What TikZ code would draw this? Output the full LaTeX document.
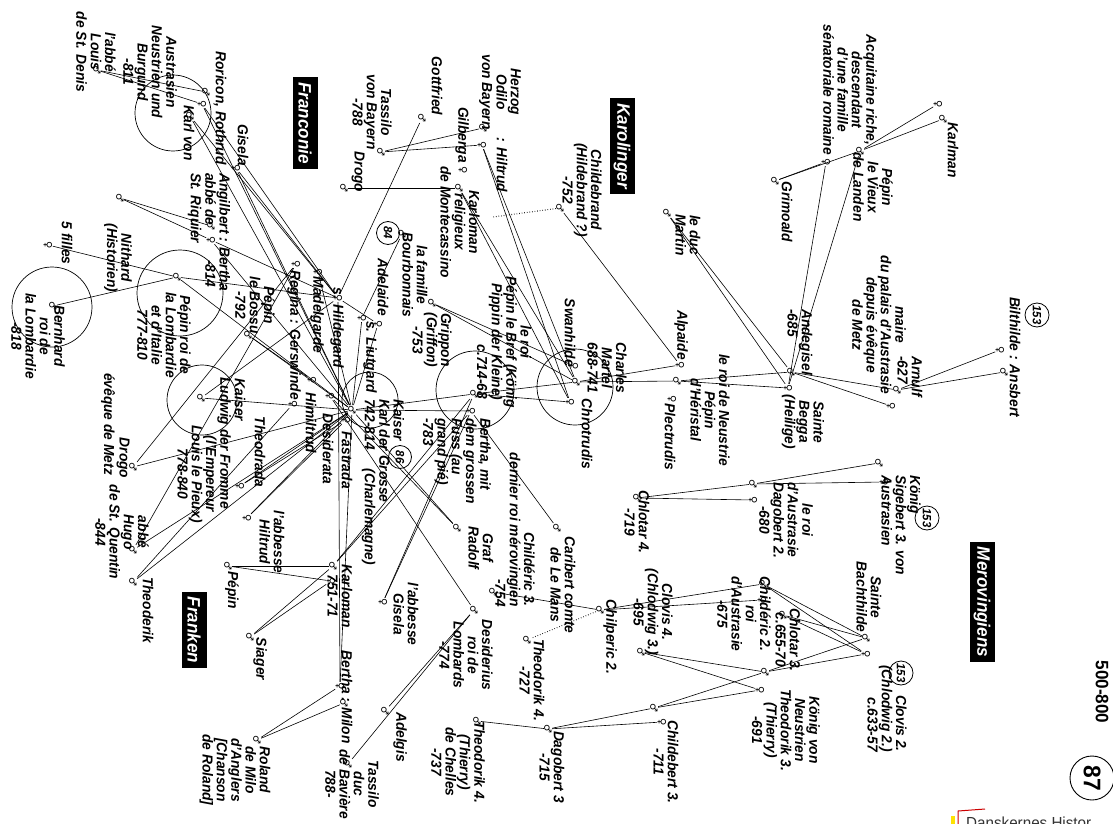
\documentclass[tikz,border=0pt]{standalone}
\usepackage{fontspec}
\setmainfont{Liberation Sans}[FakeStretch=0.95]
\newfontfamily\symf{DejaVu Sans}
\newcommand\kid[3]{\draw[ln] (#1) -- (#3); \draw[ln] (#2) -- (#3);}
\begin{document}
\begin{tikzpicture}[x=1pt,y=-1pt,
  tx/.style={rotate=-90, align=center, inner sep=0pt, font=\fontsize{14.5}{14.3}\selectfont\bfseries\itshape},
  txl/.style={tx, align=left},
  txr/.style={tx, align=right},
  lab/.style={rotate=-90, fill=black, text=white, inner xsep=5pt, inner ysep=0pt, minimum height=25pt, font=\fontsize{18}{18}\selectfont\bfseries\itshape},
  num/.style={circle, draw, line width=0.8pt, inner sep=0pt, minimum size=24pt, rotate=-90, font=\fontsize{12}{12}\selectfont\bfseries\itshape},
  ring/.style={circle, draw, line width=0.7pt, inner sep=0pt},
  sy/.style={rotate=-90, inner sep=0.3pt, font=\symf\fontsize{10}{10}\selectfont},
  ln/.style={line width=0.6pt},
]
\useasboundingbox (0,0) rectangle (1113,824);
\fill[white] (0,0) rectangle (1113,824);

% ---------- person symbols ----------
\node[sy] (karlmanw) at (938,104) {♀};
\node[sy] (karlman) at (943,119) {♂};
\node[sy] (pepinV) at (860,151) {♂};
\node[sy] (acq) at (826,162) {♀};
\node[sy] (grim) at (775,181) {♂};
\node[sy] (bilth) at (1000,350) {♀};
\node[sy] (ansb) at (1004,372) {♂};
\node[sy] (arnulf) at (897,390) {♂};
\node[sy] (arnw) at (891,406) {♀};
\node[sy] (andeg) at (791,372) {♂};
\node[sy] (begga) at (788,388) {♀};
\node[sy] (martin) at (667,213) {♂};
\node[sy] (alpaide) at (680,365) {♀};
\node[sy] (pepinH) at (677,381) {♂};
\node[sy] (plect) at (672,399) {♀};
\node[sy] (childebrand) at (560,208) {♂};
\node[sy] (swan) at (574,366) {♀};
\node[sy] (charles) at (576,382) {♂};
\node[sy] (chrot) at (570,402) {♀};
\node[sy] (pepinB) at (474,394) {♂};
\node[sy] (berthaB) at (471,411) {♀};
\node[sy] (gilberga) at (463,170) {♀};
\node[sy] (karlomanR) at (459,188) {♂};
\node[sy] (odilo) at (483,128) {♂};
\node[sy] (hiltrudO) at (482,145) {♀};
\node[sy] (tassilo) at (381,152) {♂};
\node[sy] (gottfried) at (422,118) {♂};
\node[sy] (drogoK) at (344,188) {♂};
\node[sy] (grippo) at (432,303) {♂};
\node[sy] (famille) at (402,234) {♂};
\node[sy] (adelaide) at (378,324) {♀};
\node[sy] (karl) at (352,410) {♂};
\node[sy] (liutgard) at (362,318) {♀};
\node[sy] (hildegard) at (338,298) {♀};
\node[sy] (madel) at (318,272) {♀};
\node[sy] (regina) at (296,264) {♀};
\node[sy] (gersw) at (293,404) {♀};
\node[sy] (himil) at (312,380) {♀};
\node[sy] (desid) at (330,396) {♀};
\node[sy] (fastrada) at (346,420) {♀};
\node[sy] (bossu) at (248,335) {♂};
\node[sy] (karlv) at (190,116) {♂};
\node[sy] (roricon) at (206,92) {♂};
\node[sy] (rothrud) at (202,104) {♀};
\node[sy] (gisela) at (236,168) {♀};
\node[sy] (angilb) at (211,226) {♂};
\node[sy] (berthaA) at (211,240) {♀};
\node[sy] (louis) at (97,70) {♂};
\node[sy] (nithard) at (120,198) {♂};
\node[sy] (filles) at (48,245) {♀};
\node[sy] (pepinL) at (177,277) {♂};
\node[sy] (bernhard) at (53,306) {♂};
\node[sy] (ludwig) at (201,398) {♂};
\node[sy] (theodrada) at (240,486) {♀};
\node[sy] (drogoM) at (133,467) {♂};
\node[sy] (hugo) at (133,550) {♂};
\node[sy] (theoderik) at (133,582) {♂};
\node[sy] (hiltrudK) at (247,518) {♀};
\node[sy] (berthaM) at (340,686) {♀};
\node[sy] (milon) at (344,703) {♂};
\node[sy] (roland) at (257,740) {♂};
\node[sy] (karlomanP) at (333,566) {♂};
\node[sy] (kpw) at (331,581) {♀};
\node[sy] (pepin3) at (228,566) {♂};
\node[sy] (siager) at (250,637) {♂};
\node[sy] (gisAb) at (383,602) {♀};
\node[sy] (desiderius) at (474,610) {♂};
\node[sy] (adelgis) at (385,711) {♂};
\node[sy] (tassduc) at (348,764) {♂};
\node[sy] (radolf) at (457,528) {♂};
\node[sy] (childeric3) at (493,592) {♂};
\node[sy] (caribert) at (557,528) {♂};
\node[sy] (chilp) at (600,610) {♂};
\node[sy] (theo4a) at (527,640) {♂};
\node[sy] (dagob3) at (548,729) {♂};
\node[sy] (theo4b) at (477,721) {♂};
\node[sy] (childeb3) at (654,708) {♂};
\node[sy] (childeb3w) at (662,722) {♀};
\node[sy] (clovis4) at (641,652) {♂};
\node[sy] (childeric2) at (763,584) {♂};
\node[sy] (childeric2w) at (762,600) {♀};
\node[sy] (chlotar3) at (783,615) {♂};
\node[sy] (theo3) at (765,672) {♂};
\node[sy] (theo3w) at (760,690) {♀};
\node[sy] (clovis2) at (866,638) {♂};
\node[sy] (bath) at (866,654) {♀};
\node[sy] (sigeb) at (879,463) {♂};
\node[sy] (sigw) at (884,482) {♀};
\node[sy] (dagob2) at (753,484) {♂};
\node[sy] (dagob2w) at (753,500) {♀};
\node[sy] (chlotar4) at (637,498) {♂};
\coordinate (dotend) at (493,217);

% ---------- connectors ----------
\kid{karlmanw}{karlman}{pepinV}
\kid{pepinV}{acq}{grim}
\kid{pepinV}{acq}{begga}
\kid{bilth}{ansb}{arnulf}
\kid{arnulf}{arnw}{andeg}
\kid{andeg}{begga}{pepinH}
\kid{andeg}{begga}{martin}
\kid{pepinH}{alpaide}{charles}
\draw[ln] (alpaide) -- (childebrand);
\draw[ln, dotted, line width=1.1pt] (childebrand) -- (dotend);
\kid{charles}{chrot}{pepinB}
\kid{charles}{chrot}{karlomanR}
\kid{charles}{chrot}{hiltrudO}
\kid{charles}{swan}{grippo}
\kid{odilo}{hiltrudO}{tassilo}
\draw[ln] (karlomanR) -- (drogoK);
\draw[ln] (gottfried) -- (hildegard);
\draw[ln] (famille) -- (liutgard);
\kid{pepinB}{berthaB}{karl}
\kid{pepinB}{berthaB}{karlomanP}
\kid{pepinB}{berthaB}{gisAb}
\draw[ln] (caribert) -- (berthaB);
\foreach \c in {karlv,rothrud,gisela,berthaA,pepinL,ludwig,adelaide,berthaM} {\kid{karl}{hildegard}{\c}}
\kid{karl}{himil}{bossu}
\kid{karl}{fastrada}{theodrada}
\kid{karl}{fastrada}{hiltrudK}
\kid{karl}{regina}{drogoM}
\kid{karl}{regina}{hugo}
\kid{karl}{gersw}{theoderik}
\kid{karl}{desid}{radolf}
\draw[ln] (madel) -- (karl);
\draw[ln] (liutgard) -- (karl);
\kid{roricon}{rothrud}{louis}
\kid{angilb}{berthaA}{nithard}
\draw[ln] (pepinL) -- (bernhard);
\draw[ln] (pepinL) -- (filles);
\kid{berthaM}{milon}{roland}
\kid{karlomanP}{kpw}{pepin3}
\kid{karlomanP}{kpw}{siager}
\draw[ln] (desiderius) -- (desid);
\draw[ln] (desiderius) -- (adelgis);
\draw[ln] (desiderius) -- (tassduc);
\draw[ln] (chilp) -- (childeric3);
\draw[ln, dotted, line width=1pt] (chilp) -- (theo4a);
\kid{childeric2}{childeric2w}{chilp}
\kid{clovis2}{bath}{childeric2}
\kid{clovis2}{bath}{chlotar3}
\kid{clovis2}{bath}{theo3}
\kid{sigeb}{sigw}{dagob2}
\kid{dagob2}{dagob2w}{chlotar4}
\kid{theo3}{theo3w}{clovis4}
\kid{theo3}{theo3w}{childeb3}
\kid{childeb3}{childeb3w}{dagob3}
\draw[ln] (dagob3) -- (theo4b);

% ---------- rings ----------
\node[ring, minimum size=76pt] (rKarlv) at (173,113) {};
\node[ring, minimum size=86pt] (rPepinL) at (180,293) {};
\node[ring, minimum size=80pt] (rBern) at (52,307) {};
\node[ring, minimum size=70pt] (rLud) at (202,400) {};
\node[ring, minimum size=56pt] (rKarl) at (370,400) {};
\node[ring, minimum size=78pt] (rPepinB) at (475,390) {};
\node[ring, minimum size=76pt] (rCharles) at (575,387) {};

% ---------- number circles ----------
\node[num, minimum size=23pt] (n84) at (388,233) {84};
\node[num, minimum size=23pt] (n86) at (400,457) {86};
\node[num] (n153a) at (1037,315) {153};
\node[num] (n153b) at (927,518) {153};
\node[num] (n153c) at (901,673) {153};
\node[circle, draw, line width=0.9pt, minimum size=44pt, inner sep=0pt, rotate=-90, font=\fontsize{24}{24}\selectfont\bfseries] (n87) at (1092,778) {87};
\node[rotate=-90, inner sep=0pt, font=\fontsize{18}{18}\selectfont\bfseries] (period) at (1102,692) {500-800};

% ---------- region labels ----------
\node[lab] (lKar) at (622,146) {Karolinger};
\node[lab] (lMer) at (982,602) {Merovingiens};
\node[lab] (lFrc) at (305,123) {Franconie};
\node[lab] (lFrk) at (194,630) {Franken};

% ---------- texts ----------
\node[tx] (tKarlman) at (953,150) {Karlman};
\node[tx] (tPepinV) at (873,187) {Pépin\\le Vieux\\de Landen};
\node[tx] (tAcq) at (850,90) {Acquitaine riche,\\descendant\\d'une famille\\sénatoriale romaine};
\node[tx] (tGrim) at (787,212) {Grimoald};
\node[txl, anchor=west] (tArnulf) at (910,356) {Arnulf\\-627};
\node[tx] (tMaire) at (879,325) {maire\\du palais d'Austrasie\\depuis évêque\\de Metz};
\node[tx] (tBilth) at (1015,357) {Bilthilde : Ansbert};
\node[txl, anchor=west] (tAndeg) at (800,309) {Andegisel\\-685};
\node[tx] (tBegga) at (803,422) {Sainte\\Begga\\(Heilige)};
\node[tx] (tPepinH) at (710,410) {le roi de Neustrie\\Pépin\\d'Héristal};
\node[tx] (tAlp) at (681,335) {Alpaide};
\node[tx] (tPlect) at (670,437) {Plectrudis};
\node[tx] (tMartin) at (688,235) {le duc\\Martin};
\node[tx] (tChildebrand) at (582,190) {Childebrand\\(Hildebrand ?)\\-752};
\node[tx] (tCharles) at (607,368) {Charles\\Martel\\688-741};
\node[tx] (tSwan) at (570,333) {Swanhilde};
\node[tx] (tChrot) at (587,434) {Chrotrudis};
\node[tx] (tPepinB) at (510,342) {le roi\\Pépin le Bref (König\\Pippin der Kleine)};
\node[tx] (tPepinBd) at (482,372) {c.714-68};
\node[txl, anchor=west] (tBertha) at (457,418) {Bertha, mit\\dem grossen\\Fuss (au\\grand pié)\\-783};
\node[tx] (tGrippo) at (432,340) {Grippon\\(Griffon)\\-753};
\node[tx] (tFam) at (415,275) {la famille\\Bourbonnais};
\node[tx] (tAdel) at (383,287) {Adelaide};
\node[tx] (tHerzog) at (500,92) {Herzog\\Odilo\\von Bayern};
\node[tx] (tHiltrudO) at (502,165) {: Hiltrud};
\node[tx] (tGilberga) at (462,135) {Gilberga};
\node[tx] (tKarlomanR) at (460,222) {Karloman\\religieux\\de Montecassino};
\node[tx] (tGott) at (437,86) {Gottfried};
\node[tx] (tTass) at (372,112) {Tassilo\\von Bayern\\-788};
\node[tx] (tDrogoK) at (358,172) {Drogo};
\node[tx] (tGisela) at (243,145) {Gisela};
\node[tx] (tRoricon) at (220,108) {Roricon, Rothrud};
\node[tx] (tKarlv) at (189,133) {Karl von};
\node[tx] (tAust) at (150,72) {Austrasien\\Neustrien und\\Burgund\\-811};
\node[tx] (tLouis) at (96,52) {l'abbé\\Louis\\de St. Denis};
\node[txl, anchor=west] (tAngilb) at (209,173) {Angilbert : Bertha\\abbé de\hspace{2.4em}-814\\St. Riquier};
\node[tx] (tNithard) at (118,258) {Nithard\\(Historien)};
\node[tx] (tFilles) at (67,243) {5 filles};
\node[tx] (tBern) at (38,336) {Bernhard\\roi de\\la Lombardie\\-818};
\node[tx] (tPepinL) at (164,335) {Pépin roi de\\la Lombardie\\et d'Italie\\777-810};
\node[tx] (tBossu) at (255,305) {Pépin\\le Bossu\\-792};
\node[tx] (tRegina) at (294,335) {Regina : Gerswinde};
\node[tx] (tMadel) at (317,315) {Madelgarde};
\node[tx] (tHild) at (337,328) {s. Hildegard};
\node[tx] (tLiut) at (370,357) {s. Liutgard};
\node[txl, anchor=west] (tKarl) at (383,399) {Kaiser\\Karl der Grosse\\742-814\hspace{1.3em}(Charlemagne)};
\node[tx] (tDesid) at (328,449) {Desiderata};
\node[tx] (tFast) at (347,460) {Fastrada};
\node[tx] (tHimil) at (311,423) {Himiltrud};
\node[tx] (tLudK) at (240,400) {Kaiser};
\node[tx] (tLud) at (224,443) {Ludwig der Fromme};
\node[tx] (tLud2) at (197,474) {(l'Empereur\\Louis le Pieux)\\778-840};
\node[tx] (tTheodrada) at (260,452) {Theodrada};
\node[tx] (tDrogoM) at (123,458) {Drogo};
\node[tx] (tEveque) at (108,424) {évêque de Metz};
\node[tx] (tHugo) at (122,532) {abbé\\Hugo\\de St. Quentin\\-844};
\node[tx] (tTheoderik) at (148,610) {Theoderik};
\node[tx] (tHiltrudK) at (272,542) {l'abbesse\\Hiltrud};
\node[tx] (tPepin3) at (232,590) {Pépin};
\node[tx] (tKarlomanP) at (340,596) {Karloman\\751-71};
\node[tx] (tSiager) at (260,659) {Siager};
\node[tx] (tBerthaM) at (347,697) {Bertha : Milon};
\node[tx] (tRoland) at (235,770) {Roland\\de Milo\\d'Anglers\\{}[Chanson\\de Roland]};
\node[tx] (tTassduc) at (352,784) {Tassilo\\duc\\de Bavière\\788-};
\node[tx] (tRadolf) at (481,548) {Graf\\Radolf};
\node[tx] (tGisAb) at (406,614) {l'abbesse\\Gisela};
\node[tx] (tDesiderius) at (466,655) {Desiderius\\roi de\\Lombards\\-774};
\node[tx] (tAdelgis) at (400,737) {Adelgis};
\node[txr, anchor=east] (tChilderic3) at (515,607) {Childéric 3.\\dernier roi mérovingien\\-754};
\node[tx] (tCaribert) at (563,585) {Caribert comte\\de Le Mans};
\node[tx] (tChilp) at (610,637) {Chilperic 2.};
\node[tx] (tTheo4a) at (532,680) {Theodorik 4.\\-727};
\node[tx] (tDagob3) at (552,767) {Dagobert 3\\-715};
\node[tx] (tTheo4b) at (458,762) {Theodorik 4.\\(Thierry)\\de Chelles\\-737};
\node[tx] (tChildeb3) at (666,762) {Childebert 3.\\-711};
\node[tx] (tClovis4) at (653,612) {Clovis 4.\\(Chlodwig 3.)\\-695};
\node[tx] (tChilderic2) at (744,614) {Childéric 2.\\roi\\d'Austrasie\\-675};
\node[tx] (tChlotar3) at (788,640) {Chlotar 3.\\c.655-70};
\node[tx] (tTheo3) at (786,730) {König von\\Neustrien\\Theodorik 3.\\(Thierry)\\-691};
\node[txr, anchor=east] (tClovis2) at (887,752) {Clovis 2.\\(Chlodwig 2.)\\c.633-57};
\node[tx] (tBath) at (869,597) {Sainte\\Bachthilde};
\node[txl, anchor=west] (tSigeb) at (901,475) {König\\Sigebert 3. von\\Austrasien};
\node[tx] (tDagob2) at (786,520) {le roi\\d'Austrasie\\Dagobert 2.\\-680};
\node[tx] (tChlotar4) at (637,522) {Chlotar 4.\\-719};

% ---------- watermark ----------
\begin{scope}
\clip (0,0) rectangle (1113,824);
\fill[yellow!85!orange] (951,816) rectangle (955,826);
\draw[red!80!black, line width=1pt] (958,826) -- (958,811) -- (985,809);
\node[anchor=north west, inner sep=0pt, text=black!80, font=\fontsize{16}{16}\selectfont] (wm) at (966,817) {Danskernes Histor};
\end{scope}
\end{tikzpicture}
\end{document}
